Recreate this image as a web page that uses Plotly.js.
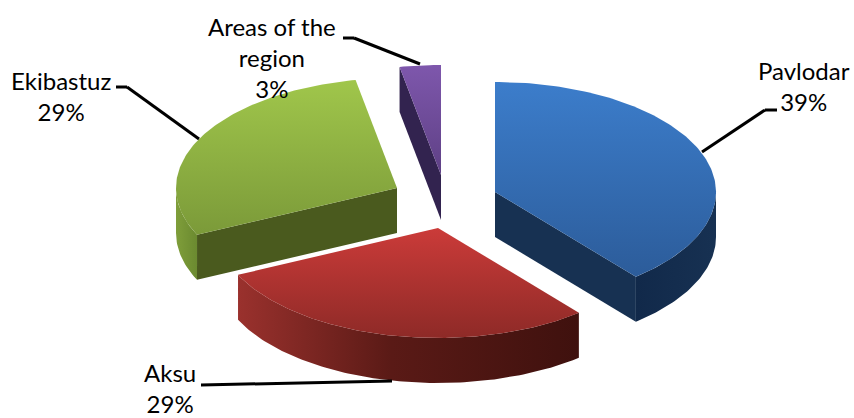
<!DOCTYPE html>
<html>
<head>
<meta charset="utf-8">
<script src="https://cdn.plot.ly/plotly-3.0.1.min.js"></script>
<style>html,body{margin:0;padding:0;background:#fff}#chart{width:854px;height:418px}</style>
</head>
<body>
<div id="chart"></div>
<script>
// --- data ---
const categories = ["Pavlodar", "Aksu", "Ekibastuz", "Areas of the region"];
const shares = [39, 29, 29, 3];
const labelTexts = ["Pavlodar<br>39%", "Aksu<br>29%", "Ekibastuz<br>29%", "Areas of the<br>region<br>3%"];

// --- styling / layout ---
const RX = 221, RY = 110, DEPTH = 45;
const apexX = [495, 438, 397, 441];
const apexY = [192, 228, 188, 175];
// y axis is reversed, so colour stops run bottom (0) to top (1) of each face
const faceScale = [
  [[0, "#2c5c9a"], [1, "#3c7dcb"]],
  [[0, "#8e2a27"], [1, "#cb3b39"]],
  [[0, "#7b9a39"], [1, "#a0c64b"]],
  [[0, "#5e4085"], [1, "#7e57ac"]]
];
const cutColor = ["#173152", "#4a1512", "#4a5a1e", "#32234f"];
const wallScale = [
  [[0, "#11294a"], [1, "#173152"]],
  [[0, "#9a312d"], [0.45, "#5a1a16"], [1, "#3f110e"]],
  [[0, "#7f9e3a"], [1, "#6b8a30"]],
  [[0, "#32234f"], [1, "#32234f"]]
];
const drawOrder = [3, 2, 0, 1];
const labelX = [804, 170, 61, 272];
const labelY = [86, 388, 96, 57];
const leaders = [
  [[702, 152], [765, 110], [777, 110]],
  [[201, 385], [392, 381]],
  [[116, 87], [127, 87], [199, 139]],
  [[343, 38], [354, 38], [420, 64]]
];

const total = shares.reduce((a, b) => a + b, 0);
const rad = d => d * Math.PI / 180;
function rim(i, deg) {
  return [apexX[i] + RX * Math.sin(rad(deg)), apexY[i] - RY * Math.cos(rad(deg))];
}
function arc(i, a, b) {
  const pts = [], n = Math.max(2, Math.ceil(Math.abs(b - a)));
  for (let k = 0; k <= n; k++) pts.push(rim(i, a + (b - a) * k / n));
  return pts;
}
function poly(pts, extra) {
  return Object.assign({
    type: "scatter", mode: "lines", x: pts.map(p => p[0]), y: pts.map(p => p[1]),
    fill: "toself", line: {width: 0}, hoverinfo: "skip", showlegend: false
  }, extra);
}
const angles = [];
let acc = 0;
shares.forEach(v => { angles.push([acc * 3.6 * 100 / total, (acc + v) * 3.6 * 100 / total]); acc += v; });

const traces = [];
drawOrder.forEach(i => {
  const [a, b] = angles[i];
  // straight cut walls seen from the front
  [a, b].forEach((t, idx) => {
    const s = Math.sin(rad(t));
    const visible = idx === 0 ? s < -1e-6 : s > 1e-6;
    if (visible) {
      const r = rim(i, t);
      traces.push(poly([[apexX[i], apexY[i]], r, [r[0], r[1] + DEPTH], [apexX[i], apexY[i] + DEPTH]],
        {fillcolor: cutColor[i], name: categories[i] + " cut"}));
    }
  });
  // curved outer wall: front half of the rim only
  const f0 = Math.max(a, 90), f1 = Math.min(b, 270);
  if (f1 > f0) {
    const top = arc(i, f0, f1);
    const bottom = top.slice().reverse().map(p => [p[0], p[1] + DEPTH]);
    traces.push(poly(top.concat(bottom), {
      name: categories[i] + " wall",
      fillgradient: {type: "horizontal", colorscale: wallScale[i]}
    }));
  }
  // top face
  traces.push(poly([[apexX[i], apexY[i]]].concat(arc(i, a, b)), {
    name: categories[i],
    fillgradient: {type: "vertical", colorscale: faceScale[i]}
  }));
});

const shapes = [];
leaders.forEach(l => {
  for (let k = 0; k < l.length - 1; k++) {
    shapes.push({type: "line", xref: "x", yref: "y", x0: l[k][0], y0: l[k][1], x1: l[k + 1][0], y1: l[k + 1][1],
      line: {color: "#000", width: 3}});
  }
});

const annotations = labelTexts.map((t, i) => ({
  text: t, x: labelX[i], y: labelY[i], xref: "x", yref: "y", showarrow: false,
  xanchor: "center", yanchor: "middle", align: "center",
  font: {family: "Lato, 'Open Sans', sans-serif", size: 24, color: "#000"}
}));

const layout = {
  width: 854, height: 418, margin: {l: 0, r: 0, t: 0, b: 0},
  paper_bgcolor: "#fff", plot_bgcolor: "#fff", showlegend: false,
  xaxis: {range: [0, 854], visible: false, fixedrange: true},
  yaxis: {range: [418, 0], visible: false, fixedrange: true},
  shapes, annotations
};
Plotly.newPlot("chart", traces, layout, {displayModeBar: false, staticPlot: true});
</script>
</body>
</html>
